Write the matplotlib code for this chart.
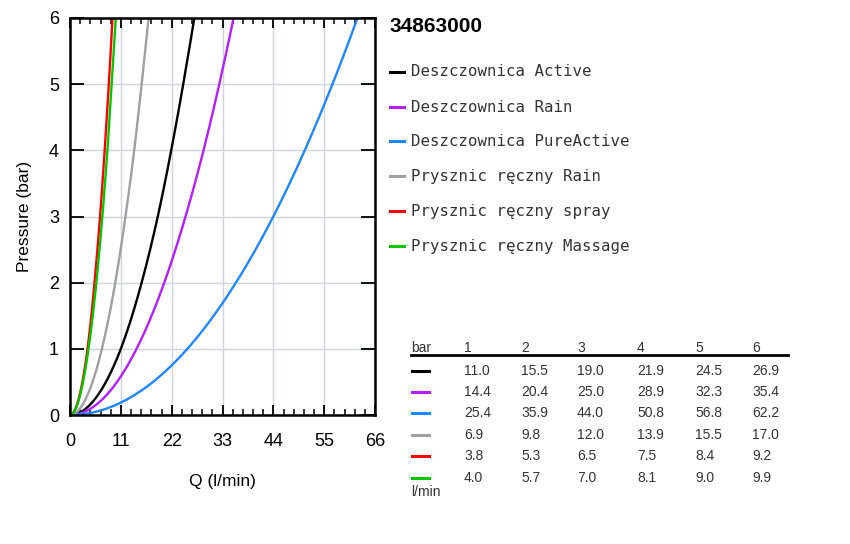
import numpy as np
import matplotlib
matplotlib.use("Agg")
import matplotlib.pyplot as plt
from matplotlib.lines import Line2D

# data: flow (l/min) at each pressure (bar)
pressure = [1, 2, 3, 4, 5, 6]
names = ["Deszczownica Active", "Deszczownica Rain", "Deszczownica PureActive",
         "Prysznic ręczny Rain", "Prysznic ręczny spray", "Prysznic ręczny Massage"]
flow_active = [11.0, 15.5, 19.0, 21.9, 24.5, 26.9]
flow_rain = [14.4, 20.4, 25.0, 28.9, 32.3, 35.4]
flow_pure = [25.4, 35.9, 44.0, 50.8, 56.8, 62.2]
flow_hand_rain = [6.9, 9.8, 12.0, 13.9, 15.5, 17.0]
flow_spray = [3.8, 5.3, 6.5, 7.5, 8.4, 9.2]
flow_massage = [4.0, 5.7, 7.0, 8.1, 9.0, 9.9]
colors = ["#000000", "#b41eff", "#1e87ff", "#a0a0a0", "#ff0000", "#00c800"]
xticks = [0, 11, 22, 33, 44, 55, 66]
yticks = [0, 1, 2, 3, 4, 5, 6]
title = "34863000"

series = [flow_active, flow_rain, flow_pure, flow_hand_rain, flow_spray, flow_massage]

W, H = 850, 544
fig = plt.figure(figsize=(W / 100, H / 100), dpi=100)

def fx(px):
    return px / W

def fy(py):
    return 1 - py / H

ax = fig.add_axes([fx(70), fy(415), fx(375) - fx(70), fy(18) - fy(415)])

# draw each curve through origin + table points (Q^2 linear in p between points)
for q, c in zip(series, colors):
    p_pts = np.array([0] + pressure, dtype=float)
    q_pts = np.array([0] + q, dtype=float)
    p_fine = np.linspace(0, 6, 300)
    q_fine = np.sqrt(np.interp(p_fine, p_pts, q_pts ** 2))
    ax.plot(q_fine, p_fine, color=c, lw=1.7, solid_capstyle="butt")

ax.set_xlim(0, 66)
ax.set_ylim(0, 6)
ax.set_xticks(xticks)
ax.set_yticks(yticks)
ax.set_xticks(np.arange(0, 66.1, 2.2), minor=True)
ax.grid(True, color="#d0d4da", lw=1.0)
ax.set_axisbelow(True)
ax.tick_params(axis="x", which="major", direction="in", length=7, width=1.3,
               top=True, labelsize=13, pad=13)
ax.tick_params(axis="x", which="minor", direction="in", length=4, width=1.1, top=True)
ax.tick_params(axis="y", which="major", direction="in", length=10, width=1.3,
               right=True, labelsize=13, pad=8)
for s in ax.spines.values():
    s.set_linewidth(1.8)
for lab in ax.get_xticklabels() + ax.get_yticklabels():
    lab.set_family("Liberation Sans")
ax.set_xlabel("Q (l/min)", fontsize=12.5, family="Liberation Sans", labelpad=17)
ax.set_ylabel("Pressure (bar)", fontsize=12.5, family="Liberation Sans", labelpad=12)

# title and legend
fig.text(fx(389), fy(27), title, fontsize=15, fontweight="bold",
         family="Liberation Sans", va="center", ha="left")
leg_y = [72, 107, 141, 176, 211, 246]
for name, c, y in zip(names, colors, leg_y):
    fig.add_artist(Line2D([fx(390), fx(404)], [fy(y), fy(y)], color=c, lw=2.2))
    fig.text(fx(411), fy(y), name, fontsize=11.3, family="DejaVu Sans Mono",
             color="#333333", va="center", ha="left")

# table
col_x = [464, 521, 577, 637, 695, 752]
row_y = [371, 392, 413, 435, 456, 478]
tfont = dict(fontsize=10, family="Liberation Sans", color="#333333", va="center", ha="left")
fig.text(fx(411), fy(348), "bar", **tfont)
for p, x in zip(pressure, col_x):
    fig.text(fx(x), fy(348), str(p), **tfont)
fig.add_artist(Line2D([fx(411), fx(788)], [fy(355), fy(355)], color="black", lw=2))
for q, c, y in zip(series, colors, row_y):
    fig.add_artist(Line2D([fx(412), fx(429)], [fy(y), fy(y)], color=c, lw=2.2))
    for v, x in zip(q, col_x):
        fig.text(fx(x), fy(y), f"{v:.1f}", **tfont)
fig.text(fx(411), fy(492), "l/min", **tfont)

fig.savefig("out.png", dpi=100)
